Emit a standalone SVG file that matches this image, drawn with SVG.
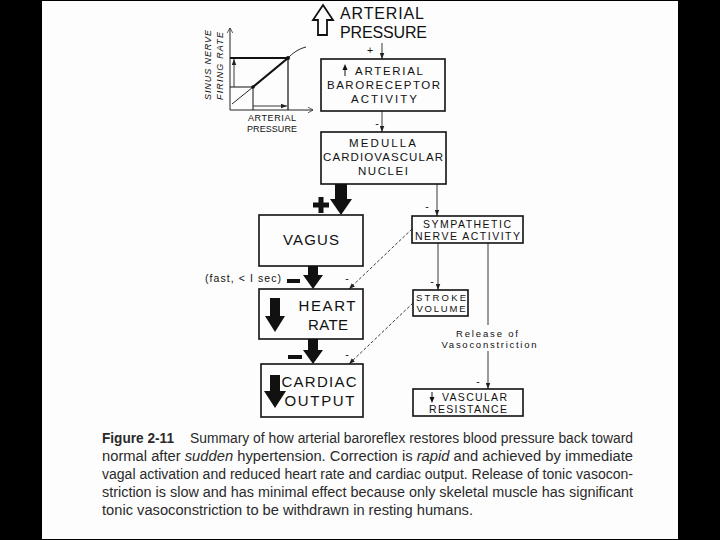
<svg xmlns="http://www.w3.org/2000/svg" width="720" height="540" viewBox="0 0 720 540">
<style>
 .lbl{font-family:"Liberation Sans",Arial,sans-serif;fill:#111;}
 .big{font-size:16px;}
 .mid{font-size:15px;}
 .sm{font-size:11.5px;}
 .xs{font-size:10.5px;}
 .xxs{font-size:9.5px;}
 .tiny{font-size:9px;}
 .box{fill:#fdfdfd;stroke:#111;stroke-width:1.6;}
 .thin{stroke:#222;stroke-width:0.9;fill:none;}
 .dash{stroke:#222;stroke-width:0.9;fill:none;stroke-dasharray:3 2;}
 .cap{font-family:"Liberation Sans",Arial,sans-serif;font-size:14px;fill:#2a2a2a;}
 .solid{fill:#111;stroke:none;}
 .ax{stroke:#222;stroke-width:1;fill:none;}
</style>
<defs>
 <marker id="ah" markerUnits="userSpaceOnUse" viewBox="0 0 8 6" refX="8" refY="3" markerWidth="6" markerHeight="5" orient="auto">
  <path d="M0,0 L8,3 L0,6 z" fill="#222"/>
 </marker>
 <marker id="oh" markerUnits="userSpaceOnUse" viewBox="0 0 8 8" refX="7" refY="4" markerWidth="6" markerHeight="6" orient="auto">
  <path d="M0,0 L7,4 L0,8" fill="none" stroke="#222" stroke-width="1"/>
 </marker>
</defs>
<rect x="0" y="0" width="720" height="540" fill="#000"/>
<rect x="42" y="1" width="636" height="538" fill="#fdfdfd"/>

<g id="inset-graph">
 <line class="ax" x1="230" y1="110" x2="230" y2="28" marker-end="url(#oh)"/>
 <line class="ax" x1="230" y1="110" x2="313" y2="110" marker-end="url(#oh)"/>
 <line x1="230" y1="58" x2="288" y2="58" stroke="#111" stroke-width="2"/>
 <line x1="288" y1="58" x2="288" y2="110" stroke="#111" stroke-width="1.2"/>
 <line x1="230" y1="87" x2="253" y2="87" stroke="#111" stroke-width="1"/>
 <line x1="253" y1="87" x2="253" y2="110" stroke="#111" stroke-width="1"/>
 <path d="M232,104 L253,87" stroke="#111" stroke-width="0.9" fill="none"/>
 <path d="M253,87 L288,58" stroke="#111" stroke-width="2.2" fill="none"/>
 <path d="M288,58 C293,53 298,49 306,47" stroke="#111" stroke-width="0.9" fill="none"/>
 <circle cx="253" cy="87" r="1.8" fill="#111"/>
 <circle cx="288" cy="58" r="2" fill="#111"/>
 <line class="thin" x1="234" y1="87" x2="234" y2="59" marker-end="url(#ah)"/>
 <line class="thin" x1="253" y1="106" x2="287" y2="106" marker-end="url(#ah)"/>
 <text class="lbl tiny" font-style="italic" transform="translate(211,65) rotate(-90)" text-anchor="middle" textLength="70" lengthAdjust="spacing">SINUS NERVE</text>
 <text class="lbl tiny" font-style="italic" transform="translate(223,66) rotate(-90)" text-anchor="middle" textLength="68" lengthAdjust="spacing">FIRING RATE</text>
 <text class="lbl tiny" x="272" y="121" text-anchor="middle" textLength="48" lengthAdjust="spacing">ARTERIAL</text>
 <text class="lbl tiny" x="272" y="132" text-anchor="middle" textLength="50" lengthAdjust="spacing">PRESSURE</text>
</g>

<g id="connectors">
 <line class="thin" x1="382" y1="43" x2="382" y2="59" marker-end="url(#ah)"/>
 <line class="thin" x1="382" y1="111" x2="382" y2="132" marker-end="url(#ah)"/>
 <line class="thin" x1="437" y1="184" x2="437" y2="216" marker-end="url(#ah)"/>
 <line class="thin" x1="438" y1="243" x2="438" y2="290" marker-end="url(#ah)"/>
 <line class="thin" x1="488" y1="243" x2="488" y2="325"/>
 <line class="thin" x1="488" y1="351" x2="488" y2="389" marker-end="url(#ah)"/>
 <line class="dash" x1="412" y1="229" x2="349" y2="289" marker-end="url(#ah)"/>
 <line class="dash" x1="413" y1="303" x2="349" y2="364" marker-end="url(#ah)"/>
 <polygon class="solid" points="335,184 347,184 347,199 352,199 341,215 330,199 335,199"/>
 <polygon class="solid" points="308,266 318,266 318,275 323,275 313,289 303,275 308,275"/>
 <polygon class="solid" points="308,339 318,339 318,350 323,350 313,364 303,350 308,350"/>
 <rect class="solid" x="313" y="202.5" width="16" height="5"/>
 <rect class="solid" x="318.5" y="197" width="5" height="16"/>
 <rect class="solid" x="287" y="279" width="13" height="4"/>
 <rect class="solid" x="288" y="355" width="14" height="4"/>
 <text class="lbl xs" x="370" y="54" text-anchor="middle">+</text>
 <text class="lbl xs" x="377" y="127" text-anchor="middle">-</text>
 <text class="lbl xs" x="427" y="210" text-anchor="middle">-</text>
 <text class="lbl xs" x="432" y="285" text-anchor="middle">-</text>
 <text class="lbl xs" x="478" y="385" text-anchor="middle">-</text>
 <text class="lbl xs" x="347" y="282" text-anchor="middle">-</text>
 <text class="lbl xs" x="347" y="358" text-anchor="middle">-</text>
 <text class="lbl xs" x="205" y="282" textLength="76" lengthAdjust="spacing">(fast, &lt; I sec)</text>
 <text class="lbl xxs" x="487" y="337" text-anchor="middle" textLength="62" lengthAdjust="spacing">Release of</text>
 <text class="lbl xxs" x="489" y="347.5" text-anchor="middle" textLength="95" lengthAdjust="spacing">Vasoconstriction</text>
</g>

<g id="arterial-pressure">
 <path d="M323,5 L333,20 L327,20 L327,35 L318,35 L318,20 L313,20 Z" fill="#fdfdfd" stroke="#111" stroke-width="1.8" stroke-linejoin="miter"/>
 <text class="lbl big" x="382" y="19" text-anchor="middle" textLength="84" lengthAdjust="spacing">ARTERIAL</text>
 <text class="lbl big" x="383.5" y="38" text-anchor="middle" textLength="87" lengthAdjust="spacing">PRESSURE</text>
</g>

<g id="baroreceptor">
 <rect class="box" x="321" y="59" width="124" height="52"/>
 <path d="M345,69 L345,76" stroke="#111" stroke-width="1"/>
 <path d="M342.5,70 L345,64 L347.5,70 Z" fill="#111"/>
 <text class="lbl sm" x="389" y="75" text-anchor="middle" textLength="68" lengthAdjust="spacing">ARTERIAL</text>
 <text class="lbl sm" x="383.5" y="89" text-anchor="middle" textLength="113" lengthAdjust="spacing">BARORECEPTOR</text>
 <text class="lbl sm" x="384" y="103" text-anchor="middle" textLength="66" lengthAdjust="spacing">ACTIVITY</text>
</g>

<g id="medulla">
 <rect class="box" x="321" y="132" width="125" height="52"/>
 <text class="lbl sm" x="382.5" y="147" text-anchor="middle" textLength="67" lengthAdjust="spacing">MEDULLA</text>
 <text class="lbl sm" x="383" y="161" text-anchor="middle" textLength="120" lengthAdjust="spacing">CARDIOVASCULAR</text>
 <text class="lbl sm" x="383" y="175" text-anchor="middle" textLength="50" lengthAdjust="spacing">NUCLEI</text>
</g>

<g id="vagus">
 <rect class="box" x="259" y="215" width="104" height="51" stroke-width="2"/>
 <text class="lbl mid" x="311" y="245" text-anchor="middle" textLength="56" lengthAdjust="spacing">VAGUS</text>
</g>

<g id="heart-rate">
 <rect class="box" x="259" y="289" width="104" height="50" stroke-width="2"/>
 <polygon class="solid" points="270,298 280,298 280,316 285,316 275,332 265,316 270,316"/>
 <text class="lbl mid" x="327" y="311" text-anchor="middle" textLength="57" lengthAdjust="spacing">HEART</text>
 <text class="lbl mid" x="328" y="330" text-anchor="middle" textLength="40" lengthAdjust="spacing">RATE</text>
</g>

<g id="cardiac-output">
 <rect class="box" x="261" y="364" width="102" height="53" stroke-width="2"/>
 <polygon class="solid" points="270,375 280,375 280,391 286,391 275,408 264,391 270,391"/>
 <text class="lbl mid" x="319" y="387" text-anchor="middle" textLength="75" lengthAdjust="spacing">CARDIAC</text>
 <text class="lbl mid" x="319.5" y="406" text-anchor="middle" textLength="70" lengthAdjust="spacing">OUTPUT</text>
</g>

<g id="sympathetic">
 <rect class="box" x="412" y="216" width="111" height="27" stroke-width="1.4"/>
 <text class="lbl xs" x="467" y="228" text-anchor="middle" textLength="88" lengthAdjust="spacing">SYMPATHETIC</text>
 <text class="lbl xs" x="467.5" y="240" text-anchor="middle" textLength="105" lengthAdjust="spacing">NERVE ACTIVITY</text>
</g>

<g id="stroke-volume">
 <rect class="box" x="413" y="290" width="55" height="26" stroke-width="1.4"/>
 <text class="lbl xxs" x="441" y="301" text-anchor="middle" textLength="50" lengthAdjust="spacing">STROKE</text>
 <text class="lbl xxs" x="441" y="312" text-anchor="middle" textLength="49" lengthAdjust="spacing">VOLUME</text>
</g>

<g id="vascular-resistance">
 <rect class="box" x="413" y="389" width="110" height="27" stroke-width="1.4"/>
 <path d="M432,392 L432,398" stroke="#111" stroke-width="1"/>
 <path d="M429.5,397 L432,403 L434.5,397 Z" fill="#111"/>
 <text class="lbl xs" x="474.5" y="401" text-anchor="middle" textLength="65" lengthAdjust="spacing">VASCULAR</text>
 <text class="lbl xs" x="468" y="412.5" text-anchor="middle" textLength="78" lengthAdjust="spacing">RESISTANCE</text>
</g>

<g id="caption">
 <text class="cap" x="102" y="443" font-weight="bold" textLength="72" lengthAdjust="spacingAndGlyphs">Figure 2-11</text>
 <text class="cap" x="190" y="443" textLength="443" lengthAdjust="spacingAndGlyphs">Summary of how arterial baroreflex restores blood pressure back toward</text>
 <text class="cap" x="102" y="461" textLength="531" lengthAdjust="spacingAndGlyphs">normal after <tspan font-style="italic">sudden</tspan> hypertension. Correction is <tspan font-style="italic">rapid</tspan> and achieved by immediate</text>
 <text class="cap" x="102" y="479" textLength="531" lengthAdjust="spacingAndGlyphs">vagal activation and reduced heart rate and cardiac output. Release of tonic vasocon-</text>
 <text class="cap" x="102" y="497" textLength="531" lengthAdjust="spacingAndGlyphs">striction is slow and has minimal effect because only skeletal muscle has significant</text>
 <text class="cap" x="102" y="515" textLength="371" lengthAdjust="spacingAndGlyphs">tonic vasoconstriction to be withdrawn in resting humans.</text>
</g>
</svg>
